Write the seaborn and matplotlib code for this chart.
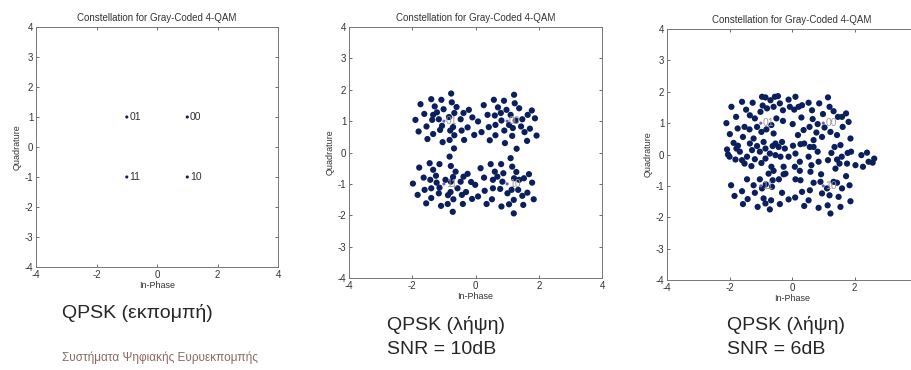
import numpy as np
import pandas as pd
import seaborn as sns
import matplotlib.pyplot as plt

sns.set_style("ticks")
plt.rcParams['font.family'] = ['Liberation Sans', 'DejaVu Sans']
plt.rcParams['axes.unicode_minus'] = False

# ideal constellation (transmitted)
tx_i = [-1, 1, -1, 1]
tx_q = [1, 1, -1, -1]
tx_bits = ['01', '00', '11', '10']

# received, SNR = 10dB
rx10_i = [-0.77, -1.74, -1.40, -1.08, -0.75, -1.90, -1.62, -1.29, -1.22, -1.34, -1.01, -0.60, -0.67,
          -1.80, -1.55, -1.37, -1.16, -1.06, -0.84, -0.71, -0.80, -1.12, -1.34, -1.52, -1.04, -0.82,
          -0.67, -0.47, -0.21, -0.38, -0.44, -0.25, -0.36, -0.10, 0.08, -0.04, -0.68,
          1.22, 0.58, 0.90, 1.24, 0.26, 0.71, 1.38, 0.38, 0.61, 0.80, 0.98, 1.78, 1.65, 1.11, 1.48,
          1.88, 1.27, 1.06, 0.82, 0.63, 0.42, 0.91, 1.18, 1.44, 1.72, 1.55, 1.93, 0.63, 0.45, 0.19,
          1.16, 0.93, 1.30, 1.63,
          -1.98, -1.83, -1.78, -1.45, -1.14, -1.64, -1.34, -1.25, -1.43, -1.23, -1.61, -1.40, -1.14,
          -1.56, -1.40, -1.16, -1.09, -0.88, -0.87, -0.79, -0.78, -0.95, -0.82, -0.78, -0.63, -0.71,
          -0.57, -0.70, -0.72, -0.47, -0.25, -0.38, -0.30, -0.43, -0.40, -0.14, -0.01, -0.11,
          0.16, 0.27, 0.48, 0.61, 0.81, 1.11, 1.16, 1.29, 0.88, 0.69, 0.55, 0.85, 1.22, 1.38, 1.69,
          1.53, 1.79, 0.29, 0.55, 0.78, 1.01, 1.14, 1.35, 1.64, 1.48, 1.84, 0.08, 0.52, 0.35, 0.82,
          1.06, 1.21, 1.51, 1.21]
rx10_q = [1.88, 1.54, 1.70, 1.68, 1.60, 1.04, 1.23, 1.47, 1.28, 1.20, 1.38, 1.45, 1.26,
          0.67, 0.83, 1.04, 1.06, 0.85, 1.13, 0.81, 0.70, 0.72, 0.59, 0.43, 0.33, 0.40,
          0.55, 1.06, 1.36, 1.26, 0.70, 0.80, 0.40, 1.12, 0.99, 0.56, 0.13,
          1.84, 1.68, 1.65, 1.57, 1.51, 1.44, 1.41, 1.20, 1.18, 1.26, 1.36, 1.34, 1.20, 1.20, 1.06,
          1.09, 1.02, 0.88, 1.02, 0.88, 0.81, 0.70, 0.78, 0.83, 0.76, 0.65, 0.54, 0.55, 0.39, 0.65,
          0.53, 0.30, 0.12, 0.37,
          -0.99, -1.35, -0.48, -0.34, -0.37, -0.80, -0.55, -0.74, -0.87, -0.96, -1.19, -1.14, -1.12,
          -1.62, -1.45, -1.30, -1.70, -1.64, -1.36, -1.26, -0.93, -0.87, -0.13, -0.43, -0.61, -0.78,
          -1.14, -1.49, -1.89, -0.93, -0.68, -0.77, -1.26, -1.35, -1.64, -0.94, -1.03, -1.48,
          -0.50, -0.80, -0.37, -0.61, -0.37, -0.18, -0.45, -0.62, -0.66, -0.77, -0.87, -0.93, -0.82,
          -0.87, -0.69, -0.82, -0.96, -1.22, -1.14, -1.16, -1.30, -1.19, -1.19, -1.28, -1.38, -1.49,
          -1.40, -1.49, -1.64, -1.72, -1.65, -1.51, -1.67, -1.94]

# received, SNR = 6dB
rx6_i = [-2.10, -1.94, -1.99, -1.79, -1.60, -1.74, -1.47, -1.52, -1.35, -1.26, -1.19, -1.57, -1.36,
         -1.12, -0.96, -0.85, -0.94, -0.80, -1.01, -0.69, -0.55, -0.45, -0.59, -0.39, -0.29, -0.50,
         -0.66, -0.82, -0.98, -0.59, -0.29, -0.11, -0.07, 0.11, 0.07, 0.21, 0.32, 0.53, 0.30, 0.02,
         0.64, 0.87, 1.15, 1.20, 0.99, 1.33, 1.47, 1.60, 1.73, 1.81, 1.62, 1.44, 1.23, 1.04, 0.82,
         0.66, 0.56, 0.78, 0.37, 0.19, 0.96, 1.87, 1.55,
         -2.08, -2.05, -2.00, -1.87, -1.78, -1.73, -1.67, -1.81, -1.60, -1.52, -1.44, -1.28, -1.35,
         -1.23, -1.12, -1.03, -1.19, -1.30, -0.91, -0.85, -0.71, -0.85, -0.98, -0.62, -0.53, -0.43,
         -0.32, -0.23, -0.53, -0.37, -0.66, -0.59, -0.27, -0.21, -0.11, 0.03, 0.11, 0.27, 0.39,
         0.25, 0.09, 0.25, 0.53, 0.57, 0.69, 0.69, 0.82, 0.62, 0.85, 0.59, 0.93, 1.15, 1.26, 1.36,
         1.44, 1.52, 1.59, 1.76, 1.78, 1.89, 2.03, 2.22, 2.27, 2.40, 2.45, 2.58, 2.63,
         -1.95, -1.84, -1.60, -1.57, -1.44, -1.42, -1.23, -1.19, -1.10, -1.03, -0.96, -0.91, -0.84,
         -0.75, -0.71, -0.67, -0.64, -0.62, -0.85, -0.42, -0.39, -0.32, -0.27, -0.11, 0.10, 0.11,
         0.27, 0.32, 0.39, 0.57, 0.53, 0.69, 0.85, 0.96, 0.91, 1.12, 1.14, 1.20, 1.23, 1.33, 1.39,
         1.44, 1.49, 1.55, 1.73, 1.60, 1.84, 1.87]
rx6_q = [1.00, 1.52, 0.65, 1.20, 1.68, 0.83, 1.43, 0.88, 1.25, 1.65, 1.15, 0.56, 0.80,
         0.88, 1.84, 1.82, 1.56, 1.47, 1.36, 1.73, 1.84, 1.86, 1.52, 1.63, 1.41, 1.15,
         0.94, 0.80, 0.72, 0.67, 1.07, 1.75, 1.52, 1.84, 1.43, 1.52, 1.57, 1.65, 1.18, 0.97,
         1.41, 1.63, 1.82, 1.52, 1.29, 1.38, 1.20, 1.20, 1.31, 1.04, 0.88, 0.62, 0.72, 0.86, 0.97,
         1.13, 0.88, 0.70, 0.78, 0.62, 0.56, 0.51, 0.30,
         0.16, 0.00, -0.07, 0.37, 0.19, 0.28, 0.09, -0.16, -0.18, -0.29, -0.07, 0.14, 0.35,
         0.51, 0.27, 0.09, -0.15, -0.37, 0.40, 0.19, 0.03, -0.13, -0.27, 0.27, 0.35, 0.24,
         0.40, 0.19, -0.02, -0.07, -0.39, -0.52, -0.39, -0.61, -0.07, 0.28, 0.03, 0.33, 0.35,
         -0.23, -0.39, -0.52, -0.07, 0.24, 0.46, 0.24, 0.09, -0.34, -0.23, -0.55, -0.63, -0.18, 0.05, 0.24,
         -0.16, -0.29, -0.07, -0.29, 0.05, 0.09, -0.34, -0.02, -0.39, 0.06, -0.23, -0.26, -0.13,
         -0.98, -1.32, -1.17, -1.58, -0.79, -1.42, -0.98, -1.22, -1.67, -0.79, -1.08, -1.40, -0.95,
         -0.61, -1.75, -1.46, -1.03, -0.82, -1.56, -0.79, -1.58, -1.22, -0.63, -1.43, -1.37, -0.79,
         -0.82, -1.19, -1.64, -1.14, -1.46, -0.90, -1.70, -1.24, -0.87, -1.08, -1.62, -1.30, -1.88, -0.87, -0.45,
         -0.90, -1.35, -1.67, -0.69, -1.08, -0.98, -1.49]

ticks = [-4, -2, 0, 2, 4]
yticks = [-4, -3, -2, -1, 0, 1, 2, 3, 4]
navy = '#0b1f5c'

fig = plt.figure(figsize=(9.12, 3.70), dpi=100, facecolor='white')
positions = [[0.0395, 0.2784, 0.2654, 0.6486],
             [0.3827, 0.2486, 0.2774, 0.6784],
             [0.7314, 0.2432, 0.2741, 0.6784]]


def settings_plot(ax):
    ax.set_xlim(-4, 4)
    ax.set_ylim(-4, 4)
    ax.set_xticks(ticks)
    ax.set_yticks(yticks)
    ax.tick_params(direction='in', top=True, right=True, length=2.5, width=0.6,
                   labelsize=7, colors='#555555', labelcolor='#333333', pad=2)
    for s in ax.spines.values():
        s.set_color('#777777')
        s.set_linewidth(0.7)
    ax.set_title('Constellation for Gray-Coded 4-QAM', fontsize=7, color='#333333', pad=4)
    ax.set_xlabel('In-Phase', fontsize=6.5, color='#333333', labelpad=1)
    ax.set_ylabel('Quadrature', fontsize=6.5, color='#333333', labelpad=2)
    return ax


ax = fig.add_axes(positions[0])
sns.scatterplot(x=tx_i, y=tx_q, ax=ax, s=5, color=navy, edgecolor='none', linewidth=0)
for xi, qi, b in zip(tx_i, tx_q, tx_bits):
    ax.text(xi + 0.08, qi, b, fontsize=7.5, color='#333333', va='center', ha='left')
settings_plot(ax)

for k, (pos, xs, ys) in enumerate([(positions[1], rx10_i, rx10_q), (positions[2], rx6_i, rx6_q)]):
    ax = fig.add_axes(pos)
    df = pd.DataFrame({'I': xs, 'Q': ys})
    sns.scatterplot(data=df, x='I', y='Q', ax=ax, s=20, color=navy, edgecolor='none', linewidth=0)
    sns.scatterplot(x=tx_i, y=tx_q, ax=ax, s=5, color='#6a5acd', edgecolor='none', linewidth=0)
    for xi, qi, b in zip(tx_i, tx_q, tx_bits):
        ax.text(xi + 0.06, qi, b, fontsize=7.5, color='#999999', va='center', ha='left', zorder=5)
    settings_plot(ax)
    if k == 1:
        # right edge of the last panel falls outside the picture
        ax.set_xticklabels(['-4', '-2', '0', '2', ''])

fig.text(62 / 912, 1 - 313 / 370, 'QPSK (εκπομπή)', fontsize=14, va='center', ha='left')
fig.text(387 / 912, 1 - 325 / 370, 'QPSK (λήψη)', fontsize=14, va='center', ha='left')
fig.text(387 / 912, 1 - 349 / 370, 'SNR = 10dB', fontsize=14, va='center', ha='left')
fig.text(727 / 912, 1 - 325 / 370, 'QPSK (λήψη)', fontsize=14, va='center', ha='left')
fig.text(727 / 912, 1 - 349 / 370, 'SNR = 6dB', fontsize=14, va='center', ha='left')
fig.text(62 / 912, 1 - 358 / 370, 'Συστήματα Ψηφιακής Ευρυεκπομπής', fontsize=8.5,
         color='#8a6a62', va='center', ha='left')

plt.savefig('out.png', dpi=100, facecolor='white')
